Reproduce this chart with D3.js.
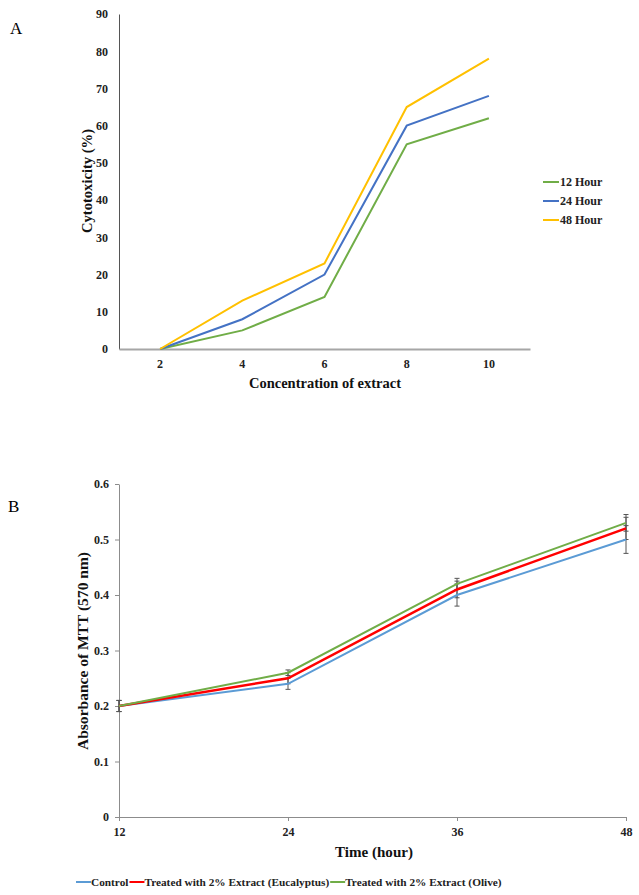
<!DOCTYPE html>
<html lang="en">
  <head>
    <meta charset="UTF-8" />
    <title>Cytotoxicity and MTT absorbance</title>
    <script src="https://d3js.org/d3.v7.min.js"></script>
    <style>
      body {
        margin: 0;
        background: #ffffff;
      }
      svg text {
        font-family: "Liberation Serif", "Times New Roman", serif;
      }
      .tick text {
        font-weight: bold;
        font-size: 12px;
        fill: #222;
      }
      .axis-title {
        font-weight: bold;
        font-size: 14px;
        fill: #111;
      }
      .legend text {
        font-weight: bold;
        fill: #222;
      }
    </style>
  </head>
  <body>
    <div id="chart"></div>
    <script>
      // Panel A data
      const concentrations = ["2", "4", "6", "8", "10"];
      const hour12 = [0, 5, 14, 55, 62];
      const hour24 = [0, 8, 20, 60, 68];
      const hour48 = [0, 13, 23, 65, 78];
      const seriesNamesA = ["12 Hour", "24 Hour", "48 Hour"];
      const colorsA = ["#70ad47", "#4472c4", "#ffc000"];

      // Panel B data
      const hours = [12, 24, 36, 48];
      const control = [0.2, 0.24, 0.4, 0.5];
      const eucalyptus = [0.2, 0.25, 0.41, 0.52];
      const olive = [0.2, 0.26, 0.42, 0.53];
      const controlErr = [0.01, 0.01, 0.02, 0.025];
      const eucalyptusErr = [0.01, 0.01, 0.015, 0.02];
      const oliveErr = [0.01, 0.005, 0.01, 0.015];
      const seriesNamesB = [
        "Control",
        "Treated with 2% Extract (Eucalyptus)",
        "Treated with 2% Extract (Olive)"
      ];
      const colorsB = ["#5b9bd5", "#ff0000", "#70ad47"];

      const svg = d3
        .select("#chart")
        .append("svg")
        .attr("width", 639)
        .attr("height", 895);

      // ---------- Panel A ----------
      function drawPanelA() {
        const left = 119, right = 530, top = 14, bottom = 349;
        const g = svg.append("g");

        g.append("text")
          .attr("x", 10)
          .attr("y", 34)
          .style("font-size", "17px")
          .text("A");

        const x = d3.scaleBand().domain(concentrations).range([left, right]);
        const y = d3.scaleLinear().domain([0, 90]).range([bottom, top]);

        const yAxis = g
          .append("g")
          .attr("transform", `translate(${left},0)`)
          .call(d3.axisLeft(y).ticks(9).tickSize(0).tickPadding(11));
        yAxis.select(".domain").attr("stroke", "#555").attr("stroke-width", 1);

        const xAxis = g
          .append("g")
          .attr("transform", `translate(0,${bottom})`)
          .call(d3.axisBottom(x).tickSize(0).tickPadding(10));
        xAxis
          .select(".domain")
          .attr("stroke", "#a6a6a6")
          .attr("stroke-width", 2);

        const series = [hour12, hour24, hour48];
        const line = d3
          .line()
          .x((d, i) => x(concentrations[i]) + x.bandwidth() / 2)
          .y((d) => y(d));

        series.forEach((s, k) => {
          g.append("path")
            .datum(s)
            .attr("fill", "none")
            .attr("stroke", colorsA[k])
            .attr("stroke-width", 2)
            .attr("d", line);
        });

        g.append("text")
          .attr("class", "axis-title")
          .attr("transform", "translate(92,181) rotate(-90)")
          .attr("text-anchor", "middle")
          .attr("textLength", 104)
          .attr("lengthAdjust", "spacingAndGlyphs")
          .text("Cytotoxicity (%)");

        g.append("text")
          .attr("class", "axis-title")
          .attr("x", 325)
          .attr("y", 388)
          .attr("text-anchor", "middle")
          .attr("textLength", 152)
          .attr("lengthAdjust", "spacingAndGlyphs")
          .text("Concentration of extract");

        const legend = g.append("g").attr("class", "legend");
        seriesNamesA.forEach((name, k) => {
          const ly = 182 + k * 19;
          legend
            .append("line")
            .attr("x1", 543)
            .attr("x2", 559)
            .attr("y1", ly)
            .attr("y2", ly)
            .attr("stroke", colorsA[k])
            .attr("stroke-width", 2);
          legend
            .append("text")
            .attr("x", 560)
            .attr("y", ly + 4)
            .style("font-size", "12px")
            .text(name);
        });
      }

      // ---------- Panel B ----------
      function drawPanelB() {
        const left = 119, right = 626, top = 484, bottom = 817;
        const g = svg.append("g");

        g.append("text")
          .attr("x", 8)
          .attr("y", 512)
          .style("font-size", "17px")
          .text("B");

        const x = d3.scaleLinear().domain([12, 48]).range([left, right]);
        const y = d3.scaleLinear().domain([0, 0.6]).range([bottom, top]);

        const yAxis = g
          .append("g")
          .attr("transform", `translate(${left},0)`)
          .call(
            d3
              .axisLeft(y)
              .ticks(6)
              .tickSizeInner(4)
              .tickSizeOuter(0)
              .tickPadding(6)
              .tickFormat((d) => (d === 0 ? "0" : d3.format(".1f")(d)))
          );
        yAxis.select(".domain").attr("stroke", "#8c8c8c");
        yAxis.selectAll(".tick line").attr("stroke", "#8c8c8c");

        const xAxis = g
          .append("g")
          .attr("transform", `translate(0,${bottom})`)
          .call(
            d3
              .axisBottom(x)
              .tickValues(hours)
              .tickSizeInner(4)
              .tickSizeOuter(0)
              .tickPadding(6)
          );
        xAxis.select(".domain").attr("stroke", "#8c8c8c");
        xAxis.selectAll(".tick line").attr("stroke", "#8c8c8c");

        const series = [control, eucalyptus, olive];
        const errs = [controlErr, eucalyptusErr, oliveErr];

        // error bars
        series.forEach((s, k) => {
          const eb = g.append("g");
          s.forEach((v, i) => {
            const cx = x(hours[i]);
            const e = errs[k][i];
            eb.append("line")
              .attr("x1", cx)
              .attr("x2", cx)
              .attr("y1", y(v - e))
              .attr("y2", y(v + e))
              .attr("stroke", "#555")
              .attr("stroke-width", 1);
            [v - e, v + e].forEach((yy) => {
              eb.append("line")
                .attr("x1", cx - 2.5)
                .attr("x2", cx + 2.5)
                .attr("y1", y(yy))
                .attr("y2", y(yy))
                .attr("stroke", "#555")
                .attr("stroke-width", 1);
            });
          });
        });

        const line = d3
          .line()
          .x((d, i) => x(hours[i]))
          .y((d) => y(d));

        series.forEach((s, k) => {
          g.append("path")
            .datum(s)
            .attr("fill", "none")
            .attr("stroke", colorsB[k])
            .attr("stroke-width", k === 1 ? 2.5 : 2)
            .attr("d", line);
        });

        g.append("text")
          .attr("class", "axis-title")
          .attr("transform", "translate(88,651) rotate(-90)")
          .attr("text-anchor", "middle")
          .attr("textLength", 198)
          .attr("lengthAdjust", "spacingAndGlyphs")
          .text("Absorbance of MTT (570 nm)");

        g.append("text")
          .attr("class", "axis-title")
          .attr("x", 374)
          .attr("y", 857)
          .attr("text-anchor", "middle")
          .attr("textLength", 78)
          .attr("lengthAdjust", "spacingAndGlyphs")
          .text("Time (hour)");

        // legend in a row, positioned by measured text width
        const legend = g.append("g").attr("class", "legend");
        let lx = 76;
        const ly = 882;
        seriesNamesB.forEach((name, k) => {
          legend
            .append("line")
            .attr("x1", lx)
            .attr("x2", lx + 15)
            .attr("y1", ly)
            .attr("y2", ly)
            .attr("stroke", colorsB[k])
            .attr("stroke-width", 2);
          const t = legend
            .append("text")
            .attr("x", lx + 15)
            .attr("y", ly + 4)
            .style("font-size", "11.3px")
            .text(name);
          lx += 15 + t.node().getComputedTextLength() + 1;
        });
      }

      drawPanelA();
      drawPanelB();
    </script>
  </body>
</html>
